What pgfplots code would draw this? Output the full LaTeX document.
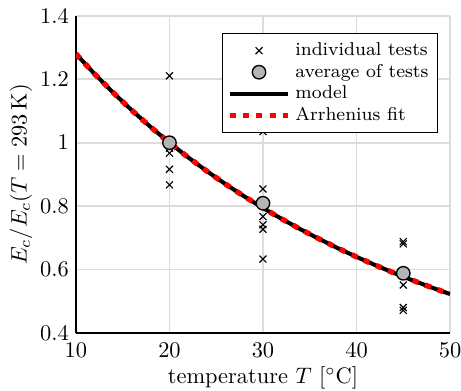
\documentclass[border=0pt]{standalone}
\usepackage{pgfplots}
\pgfplotsset{compat=1.18}
\definecolor{gridgray}{RGB}{220,220,220}
\definecolor{markgray}{RGB}{180,180,180}
\pgfplotsset{
  markleg/.style={legend image code/.code={\draw[##1] plot coordinates {(13pt,0cm)};}},
  lineleg/.style={legend image code/.code={\draw[##1] (0pt,0cm) -- (26pt,0cm);}},
}
\begin{document}
\begin{tikzpicture}
\begin{axis}[
  scale only axis,
  width=167pt, height=141.5pt,
  xmin=10, xmax=50, ymin=0.4, ymax=1.4,
  xtick={10,20,30,40,50},
  ytick={0.4,0.6,0.8,1,1.2,1.4},
  axis lines=left,
  axis line style={line width=1pt, -},
  grid=major,
  major grid style={gridgray, line width=0.8pt},
  tick style={draw=none},
  xticklabel style={yshift=1.3pt},
  yticklabel style={xshift=2.5pt},
  xlabel={temperature $T$ [$^\circ$C]},
  ylabel={$E_c/E_c(T=293\,\mathrm{K})$},
  xlabel style={yshift=2.7pt},
  ylabel style={yshift=-3.3pt},
  legend style={at={(1,1)}, xshift=-5.4pt, yshift=-7.6pt, anchor=north east, draw=black, line width=0.6pt, font=\fontsize{8.3}{10.3}\selectfont, row sep=-1.7pt, inner sep=2pt},
  legend cell align=left,
]
\addplot[only marks, mark=x, mark size=2.2pt, black, line width=0.5pt, markleg]
  coordinates {
  (20,1.211) (20,0.983) (20,0.967) (20,0.916) (20,0.867)
  (30,1.035) (30,0.854) (30,0.767) (30,0.741) (30,0.727) (30,0.633)
  (45,0.688) (45,0.681) (45,0.551) (45,0.480) (45,0.471)
  };
\addlegendentry{individual tests}
\addplot[only marks, mark=*, mark size=3pt, mark options={fill=markgray, draw=black, line width=0.6pt}, markleg]
  coordinates {(20,1.0) (30,0.809) (45,0.588)};
\addlegendentry{average of tests}
\addplot[black, line width=1.8pt, no marks, lineleg]
  coordinates {
  (10,1.2802) (12,1.2168) (14,1.1573) (16,1.1016) (18,1.0492) (20,1.0)
  (22,0.9537) (24,0.9102) (26,0.8692) (28,0.8305) (30,0.7940) (32,0.7596)
  (34,0.7271) (36,0.6964) (38,0.6673) (40,0.6398) (42,0.6138) (44,0.5891)
  (46,0.5657) (48,0.5435) (50,0.5225)
  };
\addlegendentry{model}
\addplot[red, line width=2.4pt, dash pattern=on 2.7pt off 3.2pt, no marks, lineleg]
  coordinates {
  (10,1.2802) (12,1.2168) (14,1.1573) (16,1.1016) (18,1.0492) (20,1.0)
  (22,0.9537) (24,0.9102) (26,0.8692) (28,0.8305) (30,0.7940) (32,0.7596)
  (34,0.7271) (36,0.6964) (38,0.6673) (40,0.6398) (42,0.6138) (44,0.5891)
  (46,0.5657) (48,0.5435) (50,0.5225)
  };
\addlegendentry{Arrhenius fit}
\end{axis}
\pgfresetboundingbox
\path ([xshift=-33.9pt,yshift=-25.9pt]current axis.south west) rectangle ([xshift=4.9pt,yshift=7.1pt]current axis.north east);
\end{tikzpicture}
\end{document}
